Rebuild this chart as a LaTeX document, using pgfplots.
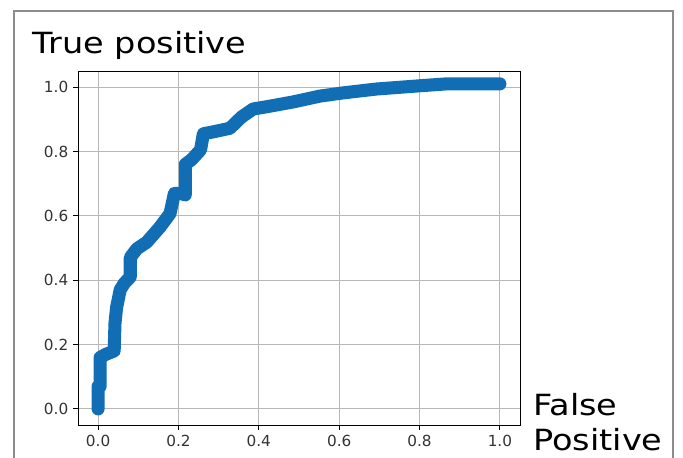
\documentclass[border=0pt]{standalone}
\usepackage{fontspec}
\setmainfont{DejaVu Sans}
\newfontfamily\labelfont[FakeStretch=1.15]{DejaVu Sans}
\usepackage{pgfplots}
\pgfplotsset{compat=1.18}
\definecolor{roc}{RGB}{18,110,180}
\begin{document}
\begin{tikzpicture}
\path[use as bounding box] (-56.16pt,-23.04pt) rectangle (435.6pt,306pt);
\begin{axis}[
  scale only axis,
  width=318.24pt, height=254.88pt,
  xmin=-0.05, xmax=1.05, ymin=-0.05, ymax=1.05,
  xtick={0,0.2,0.4,0.6,0.8,1.0},
  ytick={0,0.2,0.4,0.6,0.8,1.0},
  grid=major,
  grid style={color=black!28, line width=0.6pt},
  axis line style={black, line width=0.7pt},
  tick align=outside, tick pos=left,
  major tick length=3.5pt,
  tick style={black, line width=0.6pt},
  ticklabel style={font=\fontsize{11}{13}\selectfont, color=black!80},
  /pgf/number format/assume math mode=true,
  /pgf/number format/.cd, fixed, fixed zerofill, precision=1,
]
\addplot[color=roc, line width=9.4pt, line join=round, line cap=round] coordinates {
(0.000,0.000)
(0.000,0.070)
(0.005,0.070)
(0.005,0.160)
(0.020,0.170)
(0.040,0.180)
(0.042,0.265)
(0.046,0.315)
(0.055,0.370)
(0.065,0.390)
(0.080,0.410)
(0.080,0.470)
(0.096,0.497)
(0.121,0.518)
(0.154,0.565)
(0.179,0.607)
(0.190,0.670)
(0.205,0.670)
(0.217,0.665)
(0.217,0.760)
(0.233,0.775)
(0.255,0.805)
(0.262,0.855)
(0.287,0.861)
(0.328,0.872)
(0.357,0.907)
(0.386,0.932)
(0.420,0.939)
(0.486,0.954)
(0.552,0.972)
(0.610,0.982)
(0.693,0.994)
(0.800,1.004)
(0.867,1.010)
(1.000,1.010)
};
\end{axis}
\draw[black!45, line width=0.8pt] (-46.08pt,-40pt) rectangle (428.4pt,298.1pt);
\node[anchor=base west, inner sep=0pt, font=\labelfont\fontsize{21}{24}\selectfont] at (-32.6pt,267.6pt) {True positive};
\node[anchor=base west, inner sep=0pt, font=\labelfont\fontsize{21}{24}\selectfont] at (327.6pt,7.2pt) {False};
\node[anchor=base west, inner sep=0pt, font=\labelfont\fontsize{21}{24}\selectfont] at (327.6pt,-18pt) {Positive};
\end{tikzpicture}
\end{document}
